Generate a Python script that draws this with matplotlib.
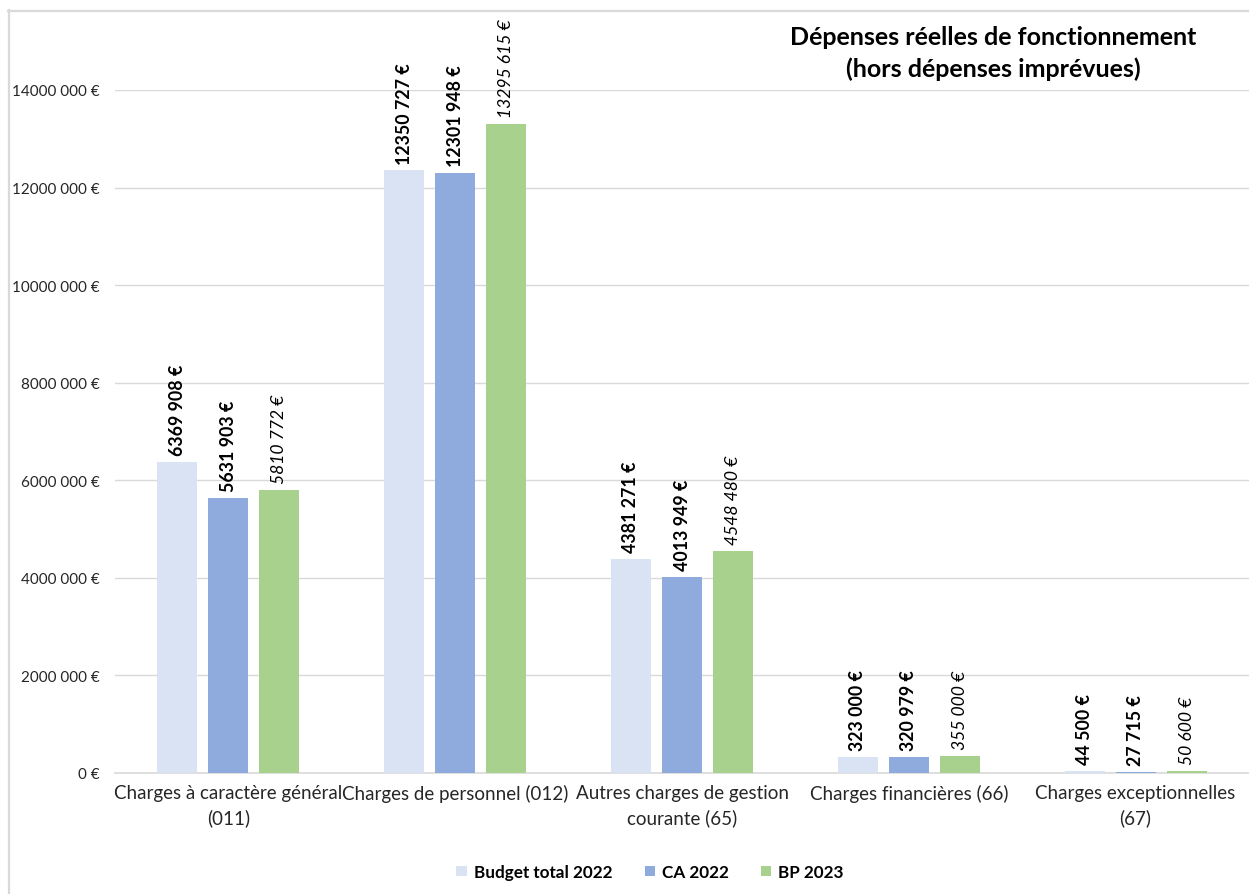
import matplotlib
matplotlib.use("Agg")
import matplotlib.pyplot as plt
from matplotlib.lines import Line2D
from matplotlib.patches import Patch
import numpy as np

plt.rcParams['font.family'] = ['Lato', 'DejaVu Sans']

categories = ["Charges à caractère général\n(011)",
              "Charges de personnel (012)",
              "Autres charges de gestion\ncourante (65)",
              "Charges financières (66)",
              "Charges exceptionnelles\n(67)"]
series_names = ["Budget total 2022", "CA 2022", "BP 2023"]
budget_2022 = [6369908, 12350727, 4381271, 323000, 44500]
ca_2022 = [5631903, 12301948, 4013949, 320979, 27715]
bp_2023 = [5810772, 13295615, 4548480, 355000, 50600]
y_ticks = [0, 2000000, 4000000, 6000000, 8000000, 10000000, 12000000, 14000000]
title = "Dépenses réelles de fonctionnement\n(hors dépenses imprévues)"

colors = ["#DAE3F3", "#8FAADC", "#A9D18E"]
label_styles = [dict(fontweight="bold", fontstyle="normal", fontsize=12.8),
                dict(fontweight="bold", fontstyle="normal", fontsize=12.8),
                dict(fontweight="normal", fontstyle="italic", fontsize=12.6)]


def fmt(v):
    v = int(round(v))
    if v >= 1000:
        return f"{v // 1000} {v % 1000:03d} €"
    return f"{v} €"


W, H = 1249, 895
fig = plt.figure(figsize=(W / 100, H / 100), dpi=100)
ax = fig.add_axes([115 / W, 1 - 774 / H, (W - 115) / W, (774 - 91) / H])

x = np.arange(len(categories))
bw = 0.176
offsets = [-0.225, 0.0, 0.225]
for s, (vals, c, st, off) in enumerate(zip([budget_2022, ca_2022, bp_2023], colors, label_styles, offsets)):
    bars = ax.bar(x + off, vals, width=bw, color=c, zorder=3, label=series_names[s])
    for b, v in zip(bars, vals):
        ax.annotate(fmt(v), (b.get_x() + b.get_width() / 2, b.get_height()),
                    xytext=(0, 5), textcoords="offset points", rotation=90,
                    ha="center", va="bottom", color="#000000",
                    annotation_clip=False, clip_on=False, **st)

ax.set_xlim(-0.5, len(categories) - 0.5)
ax.set_ylim(0, 14000000)
ax.set_yticks(y_ticks)
ax.set_yticklabels([fmt(v) for v in y_ticks])
ax.set_xticks(x)
ax.set_xticklabels(categories, fontsize=13.5, color="#262626", linespacing=1.45)
ax.tick_params(axis="y", length=0, pad=11, labelsize=11, labelcolor="#262626")
ax.tick_params(axis="x", length=0, pad=8)
ax.grid(axis="y", color="#D9D9D9", linewidth=1.0, zorder=0)
for sp in ["top", "right", "left"]:
    ax.spines[sp].set_visible(False)
ax.spines["bottom"].set_color("#D9D9D9")
ax.spines["bottom"].set_linewidth(1.2)

fig.text(993 / W, 1 - 53.5 / H, title, ha="center", va="center", fontsize=18,
         fontweight="bold", color="#000000", linespacing=1.45)

handles = [Patch(facecolor=c, edgecolor="none") for c in colors]
fig.legend(handles, series_names, loc="center", bbox_to_anchor=(650 / W, 1 - 873 / H),
           ncol=3, frameon=False, prop=dict(weight="bold", size=12.3),
           handlelength=0.6, handleheight=0.6, handletextpad=0.4, columnspacing=1.9)

# chart border
fig.add_artist(Line2D([8.5 / W, 8.5 / W], [0, 1 - 11 / H], transform=fig.transFigure,
                      color="#D9D9D9", linewidth=1.6))
fig.add_artist(Line2D([8 / W, 1], [1 - 11.5 / H, 1 - 11.5 / H], transform=fig.transFigure,
                      color="#D9D9D9", linewidth=1.6))

fig.savefig("out.png", dpi=100, facecolor="white")
